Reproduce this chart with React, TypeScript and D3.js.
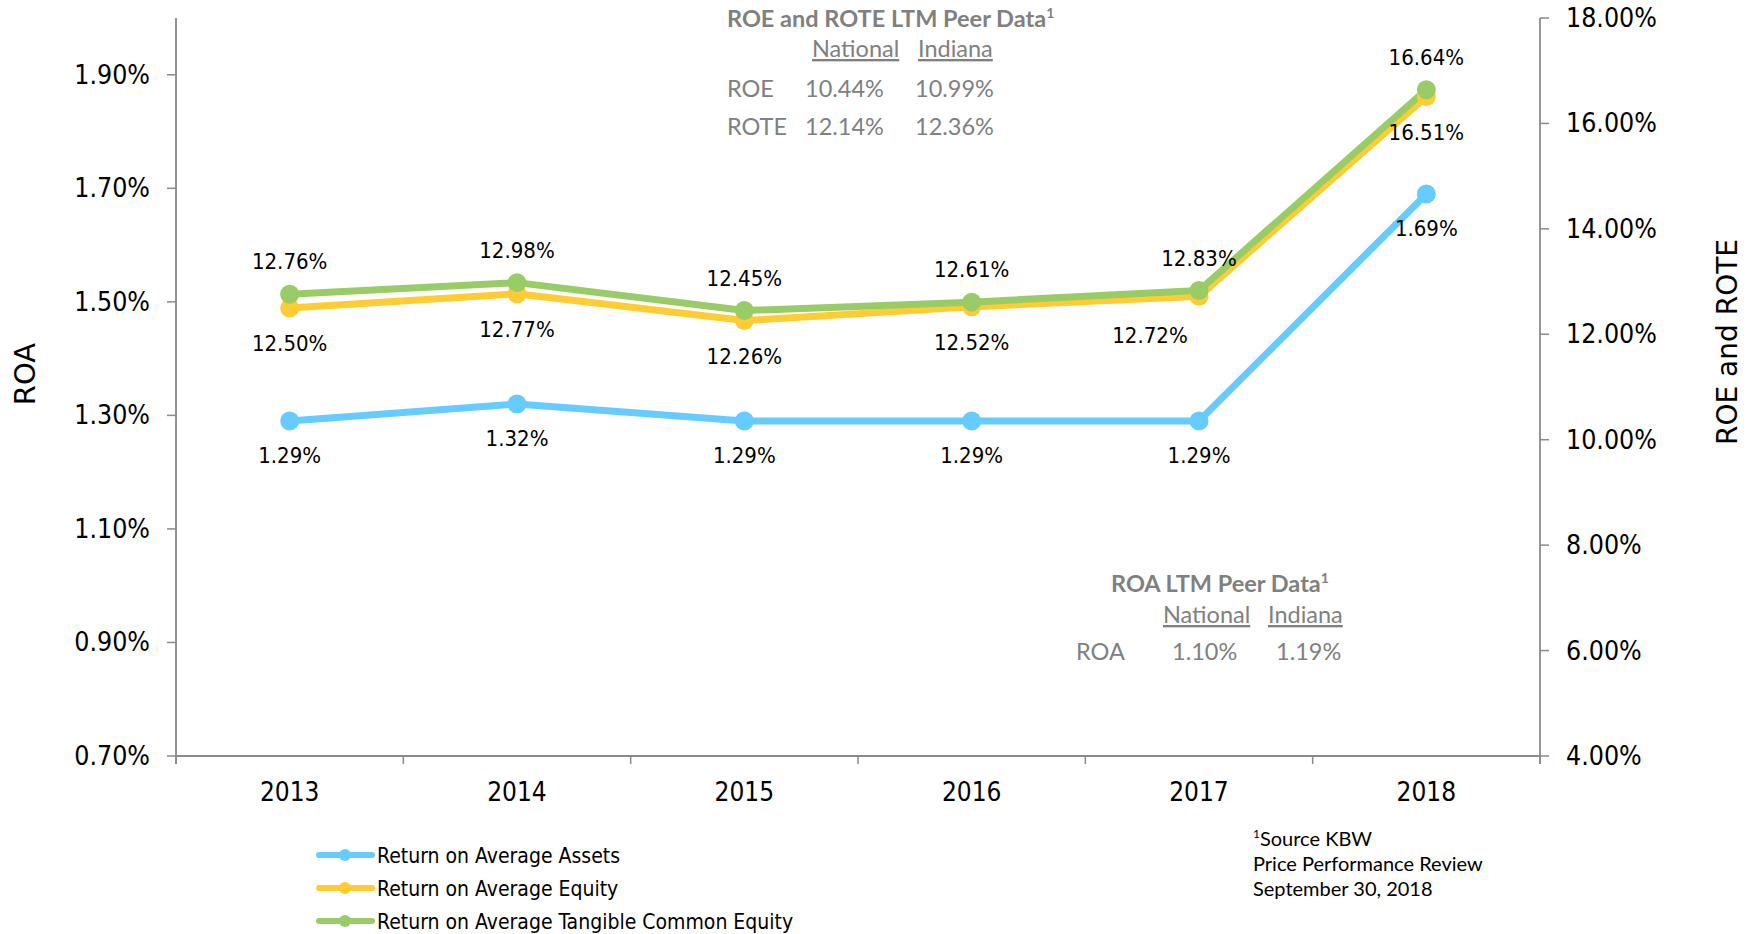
import { useMemo } from 'react';
import * as d3 from 'd3';

const YEARS = ['2013', '2014', '2015', '2016', '2017', '2018'];
const ROA = [1.29, 1.32, 1.29, 1.29, 1.29, 1.69];
const ROE = [12.5, 12.77, 12.26, 12.52, 12.72, 16.51];
const ROTE = [12.76, 12.98, 12.45, 12.61, 12.83, 16.64];

const LEFT_TICKS = [0.7, 0.9, 1.1, 1.3, 1.5, 1.7, 1.9];
const RIGHT_TICKS = [4, 6, 8, 10, 12, 14, 16, 18];

const LEGEND_LABELS = [
  'Return on Average Assets',
  'Return on Average Equity',
  'Return on Average Tangible Common Equity',
];

const ROE_PEER_ROWS = [
  { label: 'ROE', national: '10.44%', indiana: '10.99%' },
  { label: 'ROTE', national: '12.14%', indiana: '12.36%' },
];
const ROA_PEER_ROWS = [{ label: 'ROA', national: '1.10%', indiana: '1.19%' }];

const FOOTNOTE = ['Source KBW', 'Price Performance Review', 'September 30, 2018'];

const COLORS = { roa: '#66ccff', roe: '#ffcc33', rote: '#99cc66' };
const AXIS = '#8a8a8a';
const PEER = '#808080';
const TAHOMA = "'DejaVu Sans Condensed', 'DejaVu Sans', sans-serif";
const VERDANA = "'DejaVu Sans', sans-serif";
const CALIBRI = "Lato, 'Open Sans', sans-serif";

const W = 1752;
const H = 934;
const margin = { top: 18, left: 176, right: 1540, bottom: 756 };

export default function App() {
  const x = useMemo(
    () => d3.scaleBand().domain(YEARS).range([margin.left, margin.right]).padding(0),
    []
  );
  const yL = useMemo(() => d3.scaleLinear().domain([0.7, 2.0]).range([margin.bottom, margin.top]), []);
  const yR = useMemo(() => d3.scaleLinear().domain([4, 18]).range([margin.bottom, margin.top]), []);

  const cx = (i: number) => (x(YEARS[i]) as number) + x.bandwidth() / 2;

  const series = [
    { key: 'roe', values: ROE, y: yR, color: COLORS.roe },
    { key: 'rote', values: ROTE, y: yR, color: COLORS.rote },
    { key: 'roa', values: ROA, y: yL, color: COLORS.roa },
  ];

  const line = (vals: number[], y: d3.ScaleLinear<number, number>) =>
    d3
      .line<number>()
      .x((_, i) => cx(i))
      .y((d) => y(d))(vals) as string;

  const bandEdges = [...YEARS.map((yr) => x(yr) as number), margin.right];

  return (
    <svg
      width={W}
      height={H}
      style={{ position: 'absolute', left: 0, top: 0, background: '#fff' }}
    >
      {/* left axis */}
      <line x1={margin.left} x2={margin.left} y1={margin.top} y2={margin.bottom + 8} stroke={AXIS} strokeWidth={1.8} />
      {LEFT_TICKS.map((t) => (
        <g key={t}>
          <line x1={margin.left - 9} x2={margin.left} y1={yL(t)} y2={yL(t)} stroke={AXIS} strokeWidth={1.5} />
          <text x={150} y={yL(t) + 9} textAnchor="end" fontSize={26.5} fontFamily={TAHOMA} fill="#000">
            {d3.format('.2f')(t)}%
          </text>
        </g>
      ))}

      {/* right axis */}
      <line x1={margin.right} x2={margin.right} y1={margin.top} y2={margin.bottom + 8} stroke={AXIS} strokeWidth={1.8} />
      {RIGHT_TICKS.map((t) => (
        <g key={t}>
          <line x1={margin.right} x2={margin.right + 9} y1={yR(t)} y2={yR(t)} stroke={AXIS} strokeWidth={1.5} />
          <text x={1566} y={yR(t) + 9} fontSize={26.5} fontFamily={TAHOMA} fill="#000">
            {d3.format('.2f')(t)}%
          </text>
        </g>
      ))}

      {/* x axis */}
      <line x1={margin.left} x2={margin.right} y1={margin.bottom} y2={margin.bottom} stroke={AXIS} strokeWidth={1.8} />
      {bandEdges.map((e, i) => (
        <line key={i} x1={e} x2={e} y1={margin.bottom} y2={margin.bottom + 8} stroke={AXIS} strokeWidth={1.5} />
      ))}
      {YEARS.map((yr, i) => (
        <text key={yr} x={cx(i)} y={801} textAnchor="middle" fontSize={26} fontFamily={TAHOMA} fill="#000">
          {yr}
        </text>
      ))}

      {/* axis titles */}
      <text transform="translate(35,374) rotate(-90)" textAnchor="middle" fontSize={29} fontFamily={VERDANA} fill="#000">
        ROA
      </text>
      <text transform="translate(1737,342) rotate(-90)" textAnchor="middle" fontSize={28} fontFamily={VERDANA} fill="#000">
        ROE and ROTE
      </text>

      {/* lines */}
      {series.map((s) => (
        <path key={s.key} d={line(s.values, s.y)} fill="none" stroke={s.color} strokeWidth={7} strokeLinejoin="round" />
      ))}
      {series.map((s) =>
        s.values.map((v, i) => <circle key={s.key + i} cx={cx(i)} cy={s.y(v)} r={9.5} fill={s.color} />)
      )}

      {/* data labels */}
      {ROTE.map((v, i) => (
        <text key={'lt' + i} x={cx(i)} y={yR(v) - 25} textAnchor="middle" fontSize={22} fontFamily={TAHOMA} fill="#000">
          {d3.format('.2f')(v)}%
        </text>
      ))}
      {ROE.map((v, i) => (
        <text
          key={'le' + i}
          x={cx(i) + (i === 4 ? -49 : 0)}
          y={yR(v) + (i === 4 ? 47 : 43)}
          textAnchor="middle"
          fontSize={22}
          fontFamily={TAHOMA}
          fill="#000"
        >
          {d3.format('.2f')(v)}%
        </text>
      ))}
      {ROA.map((v, i) => (
        <text key={'la' + i} x={cx(i)} y={yL(v) + 42} textAnchor="middle" fontSize={22} fontFamily={TAHOMA} fill="#000">
          {d3.format('.2f')(v)}%
        </text>
      ))}

      {/* ROE and ROTE peer table */}
      <g fontFamily={CALIBRI} fill={PEER}>
        <text x={727} y={27} fontSize={23.5} fontWeight={700}>
          ROE and ROTE LTM Peer Data<tspan fontSize={14} dy={-9}>1</tspan>
        </text>
        <text x={812} y={57} fontSize={23.5} textDecoration="underline">National</text>
        <text x={918} y={57} fontSize={23.5} textDecoration="underline">Indiana</text>
        {ROE_PEER_ROWS.map((r, i) => (
          <g key={r.label} fontSize={23.5}>
            <text x={727} y={97 + i * 38}>{r.label}</text>
            <text x={805} y={97 + i * 38}>{r.national}</text>
            <text x={915} y={97 + i * 38}>{r.indiana}</text>
          </g>
        ))}
      </g>

      {/* ROA peer table */}
      <g fontFamily={CALIBRI} fill={PEER}>
        <text x={1111} y={592} fontSize={23.5} fontWeight={700}>
          ROA LTM Peer Data<tspan fontSize={14} dy={-9}>1</tspan>
        </text>
        <text x={1163} y={623} fontSize={23.5} textDecoration="underline">National</text>
        <text x={1268} y={623} fontSize={23.5} textDecoration="underline">Indiana</text>
        {ROA_PEER_ROWS.map((r) => (
          <g key={r.label} fontSize={23.5}>
            <text x={1076} y={660}>{r.label}</text>
            <text x={1172} y={660}>{r.national}</text>
            <text x={1276} y={660}>{r.indiana}</text>
          </g>
        ))}
      </g>

      {/* legend */}
      {[COLORS.roa, COLORS.roe, COLORS.rote].map((c, i) => (
        <g key={c} transform={`translate(0,${855 + i * 33})`}>
          <line x1={319} x2={372} y1={0} y2={0} stroke={c} strokeWidth={6} strokeLinecap="round" />
          <circle cx={345} cy={0} r={6} fill={c} />
          <text x={377} y={8} fontSize={21} fontFamily={TAHOMA} fill="#000">
            {LEGEND_LABELS[i]}
          </text>
        </g>
      ))}

      {/* footnote */}
      <g fontFamily={CALIBRI} fontSize={20} fill="#000">
        {FOOTNOTE.map((t, i) => (
          <text key={t} x={1253} y={846 + i * 25}>
            {i === 0 && <tspan fontSize={12} dy={-8}>1</tspan>}
            {i === 0 ? <tspan dy={8}>{t}</tspan> : t}
          </text>
        ))}
      </g>
    </svg>
  );
}
